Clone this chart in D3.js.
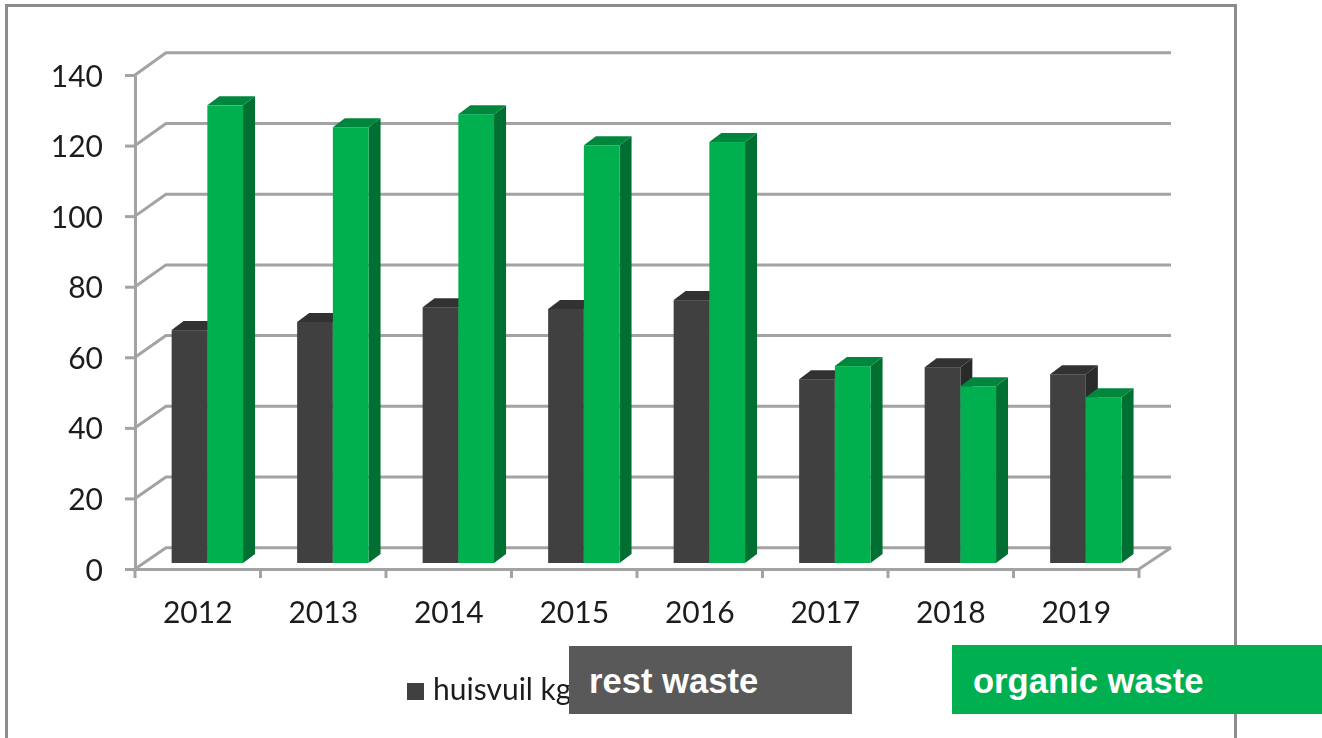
<!DOCTYPE html>
<html>
<head>
<meta charset="utf-8">
<script src="https://cdn.jsdelivr.net/npm/d3@7"></script>
<style>
    html, body { margin: 0; padding: 0; background: #fff; overflow: hidden; }
    svg { display: block; }
</style>
</head>
<body>
<svg></svg>
<script>
const YEARS = ['2012', '2013', '2014', '2015', '2016', '2017', '2018', '2019'];
const REST_WASTE = [66, 68.3, 72.5, 72, 74.5, 52.1, 55.5, 53.5];
const ORGANIC_WASTE = [129.7, 123.5, 127.2, 118.4, 119.3, 55.8, 50.1, 47];
const Y_TICKS = [0, 20, 40, 60, 80, 100, 120, 140];

const WIDTH = 1322;
const HEIGHT = 738;
const LEFT = 135;
const RIGHT = 1139;
const BOTTOM = 569;
const TOP = 75;
// how far the back wall sits from the front axes
const WALL_DX = 31;
const WALL_BOTTOM = 547.8;
const WALL_TOP = 52.7;
// the bars stand a little behind the front edge of the floor
const BAR_DX = 9.6;
const BAR_DY = 6;
const DEPTH_DX = 12;
const DEPTH_DY = 9;
const BAR_WIDTH = 35.7;

const GRID_COLOR = '#a3a3a3';
const TEXT_COLOR = '#1c1c1c';
const FONT_SIZE = 30;
const REST_COLORS = { front: '#404040', side: '#2a2a2a', top: '#303030' };
const ORGANIC_COLORS = { front: '#00b050', side: '#006f30', top: '#00873d' };

const x = d3.scaleBand().domain(YEARS).range([LEFT, RIGHT]);
const y = d3.scaleLinear().domain([0, 140]).range([BOTTOM, TOP]);
const yWall = d3.scaleLinear().domain([0, 140]).range([WALL_BOTTOM, WALL_TOP]);

const svg = d3.select('svg').attr('width', WIDTH).attr('height', HEIGHT);

svg.append('defs').append('filter')
    .attr('id', 'soft')
    .append('feGaussianBlur')
    .attr('stdDeviation', 0.5);

// outer frame, runs off the bottom of the picture
svg.append('rect')
    .attr('x', 6.5)
    .attr('y', 5.5)
    .attr('width', 1229)
    .attr('height', 800)
    .attr('fill', 'none')
    .attr('stroke', '#8c8c8c')
    .attr('stroke-width', 3);

const chart = svg.append('g').attr('filter', 'url(#soft)');

// back wall lines and the diagonals going to them
const grid = chart.append('g').attr('stroke', GRID_COLOR).attr('stroke-width', 3).attr('fill', 'none');
grid.selectAll('.grid')
    .data(Y_TICKS)
    .enter()
    .append('polyline')
    .classed('grid', true)
    .attr('points', (d) => `${LEFT},${y(d)} ${LEFT + WALL_DX},${yWall(d)} ${RIGHT + WALL_DX + 1},${yWall(d)}`);
grid.append('line')
    .attr('x1', RIGHT)
    .attr('y1', BOTTOM)
    .attr('x2', RIGHT + WALL_DX + 1)
    .attr('y2', WALL_BOTTOM);

function drawBars(values, colors, shift) {
    const bars = chart.append('g')
        .selectAll('g')
        .data(values.map((value, i) => ({ year: YEARS[i], value: value })))
        .enter()
        .append('g');
    const left = (d) => x(d.year) + BAR_DX + x.bandwidth() / 2 - BAR_WIDTH + shift;
    const top = (d) => y(d.value) - BAR_DY;
    const base = BOTTOM - BAR_DY;

    bars.append('polygon')
        .attr('fill', colors.side)
        .attr('points', (d) => {
            const r = left(d) + BAR_WIDTH;
            return `${r},${top(d)} ${r + DEPTH_DX},${top(d) - DEPTH_DY} ${r + DEPTH_DX},${base - DEPTH_DY} ${r},${base}`;
        });
    bars.append('polygon')
        .attr('fill', colors.top)
        .attr('points', (d) => {
            const l = left(d);
            const r = l + BAR_WIDTH;
            return `${l},${top(d)} ${l + DEPTH_DX},${top(d) - DEPTH_DY} ${r + DEPTH_DX},${top(d) - DEPTH_DY} ${r},${top(d)}`;
        });
    bars.append('rect')
        .attr('fill', colors.front)
        .attr('x', left)
        .attr('y', top)
        .attr('width', BAR_WIDTH)
        .attr('height', (d) => base - top(d));
}

drawBars(REST_WASTE, REST_COLORS, 0);
drawBars(ORGANIC_WASTE, ORGANIC_COLORS, BAR_WIDTH);

// axes
const yAxis = chart.append('g')
    .attr('transform', `translate(${LEFT}, 0)`)
    .call(d3.axisLeft(y).tickValues(Y_TICKS).tickSize(10).tickPadding(22).tickSizeOuter(0));
const xAxis = chart.append('g')
    .attr('transform', `translate(0, ${BOTTOM})`)
    .call(d3.axisBottom(x).tickSize(0).tickPadding(33));

chart.append('g')
    .selectAll('line')
    .data(YEARS.map((year) => x(year)).concat(RIGHT))
    .enter()
    .append('line')
    .attr('x1', (d) => d)
    .attr('x2', (d) => d)
    .attr('y1', BOTTOM)
    .attr('y2', BOTTOM + 9)
    .attr('stroke', GRID_COLOR)
    .attr('stroke-width', 3);

[yAxis, xAxis].forEach((axis) => {
    axis.selectAll('path, line').attr('stroke', GRID_COLOR).attr('stroke-width', 3);
    axis.selectAll('text')
        .attr('font-family', 'Lato')
        .attr('font-size', FONT_SIZE)
        .attr('fill', TEXT_COLOR);
});
yAxis.selectAll('text').attr('dy', '0.37em');

// legend, mostly covered by the boxes below
chart.append('rect')
    .attr('x', 407)
    .attr('y', 683)
    .attr('width', 17)
    .attr('height', 17)
    .attr('fill', REST_COLORS.front);
chart.append('text')
    .attr('x', 433)
    .attr('y', 700)
    .attr('font-family', 'Lato')
    .attr('font-size', FONT_SIZE)
    .attr('fill', TEXT_COLOR)
    .text('huisvuil kg');

// caption boxes pasted over the chart
const BOXES = [
    { label: 'rest waste', x: 569, y: 646, width: 283, height: 68, fill: '#595959', textX: 589 },
    { label: 'organic waste', x: 952, y: 645, width: 370, height: 69, fill: '#00b050', textX: 973 },
];
const boxes = svg.selectAll('.box').data(BOXES).enter().append('g').classed('box', true);
boxes.append('rect')
    .attr('x', (d) => d.x)
    .attr('y', (d) => d.y)
    .attr('width', (d) => d.width)
    .attr('height', (d) => d.height)
    .attr('fill', (d) => d.fill);
boxes.append('text')
    .attr('x', (d) => d.textX)
    .attr('y', 693)
    .attr('font-family', 'Liberation Sans')
    .attr('font-weight', 'bold')
    .attr('font-size', 34.6)
    .attr('fill', '#fff')
    .text((d) => d.label);
</script>
</body>
</html>
